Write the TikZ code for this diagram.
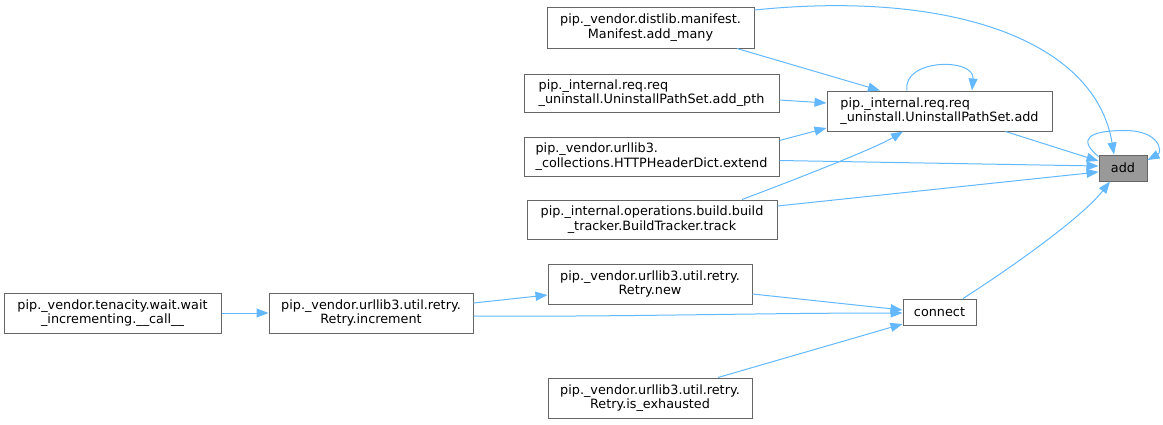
\documentclass[tikz,border=0pt]{standalone}
\usepackage{fontspec}
\setmainfont{DejaVu Sans}
\usetikzlibrary{arrows.meta,calc}
\definecolor{edgeblue}{HTML}{63B8FF}
\definecolor{boxgray}{HTML}{666666}
\definecolor{fillgray}{HTML}{999999}
\tikzset{
  fn/.style={draw=boxgray, line width=1pt, fill=white, inner sep=0pt, minimum height=40pt,
    font=\fontsize{12.8}{14.3}\selectfont, text=black},
  fnl/.style={fn, align=left},
  fnc/.style={fn, align=center},
  cur/.style={fn, fill=fillgray, minimum height=26pt},
  call/.style={draw=edgeblue, line width=1pt, -{Triangle[length=12pt,width=9pt]}, color=edgeblue},
}
\begin{document}
\begin{tikzpicture}[x=1pt,y=-1pt]
\useasboundingbox (0,0) rectangle (1163,424);
% nodes
\node[cur, minimum width=48pt] (add) at (1123,168) {add};
\node[fnl, minimum width=225pt] (upa) at (939.5,111) {pip.\_internal.req.req\\\_uninstall.UninstallPathSet.add};
\node[fnc, minimum width=207pt, minimum height=41pt] (many) at (650.5,27.5) {pip.\_vendor.distlib.manifest.\\Manifest.add\_many};
\node[fnl, minimum width=255pt, minimum height=38pt] (pth) at (651.5,93) {pip.\_internal.req.req\\\_uninstall.UninstallPathSet.add\_pth};
\node[fnl, minimum width=255pt, minimum height=39pt] (extend) at (651.5,156.5) {pip.\_vendor.urllib3.\\\_collections.HTTPHeaderDict.extend};
\node[fnc, minimum width=250pt, minimum height=39pt] (track) at (652,219.5) {pip.\_internal.operations.build.build\\\_tracker.BuildTracker.track};
\node[fnc, minimum width=217pt] (tenacity) at (112.5,313) {pip.\_vendor.tenacity.wait.wait\\\_incrementing.\_\_call\_\_};
\node[fnc, minimum width=204pt] (incr) at (371,313) {pip.\_vendor.urllib3.util.retry.\\Retry.increment};
\node[fnc, minimum width=204pt] (new) at (650,284) {pip.\_vendor.urllib3.util.retry.\\Retry.new};
\node[fn, minimum width=73pt, minimum height=26pt] (connect) at (939.5,312) {connect};
\node[fnc, minimum width=204pt] (exh) at (650,398) {pip.\_vendor.urllib3.util.retry.\\Retry.is\_exhausted};
% edges into add
\draw[call] ($(upa.south east)+(-47,0)$) -- ($(add.west)+(0,-7)$);
\draw[call] ($(add.north west)+(0,2)$) .. controls +(-22,-18) and +(-35,0) .. ($(add.north)+(2,-24)$)
            .. controls +(35,0) and +(15,-8) .. ($(add.east)+(0,-8)$);
\draw[call] ($(many.east)+(0,-17.5)$) .. controls (950,-10) and (1095,40) .. ($(add.north)+(-9,0)$);
\draw[call] ($(extend.east)+(0,4)$) -- ($(add.west)+(0,-2)$);
\draw[call] ($(track.east)+(0,-13.5)$) -- ($(add.west)+(0,4)$);
\draw[call] ($(connect.north)+(23.5,0)$) .. controls (1000,275) and (1080,220) .. ($(add.south)+(-13,0)$);
% edges into upa
\draw[call] ($(upa.north)+(-32.5,0)$) .. controls +(-5,-32) and +(3,-33) .. ($(upa.north)+(32.5,0)$);
\draw[call] ($(many.south)+(86.5,0)$) -- ($(upa.north)+(-59.5,0)$);
\draw[call] ($(pth.east)+(0,7)$) -- ($(upa.west)+(0,-8)$);
\draw[call] ($(extend.east)+(0,-16)$) -- ($(upa.west)+(0,17)$);
\draw[call] ($(track.north)+(90,0)$) .. controls +(40,-15) and +(-30,18) .. ($(upa.south)+(-36.5,0)$);
% edges into connect
\draw[call] ($(new.east)+(0,10)$) -- ($(connect.west)+(0,-2)$);
\draw[call] ($(incr.east)+(0,3)$) .. controls +(150,1) and +(-150,0) .. ($(connect.west)+(0,1)$);
\draw[call] ($(exh.north)+(68,0)$) -- ($(connect.west)+(0,12)$);
% others
\draw[call] ($(incr.east)+(0,-10)$) -- ($(new.west)+(0,11)$);
\draw[call] (tenacity.east) -- (incr.west);
\end{tikzpicture}
\end{document}
